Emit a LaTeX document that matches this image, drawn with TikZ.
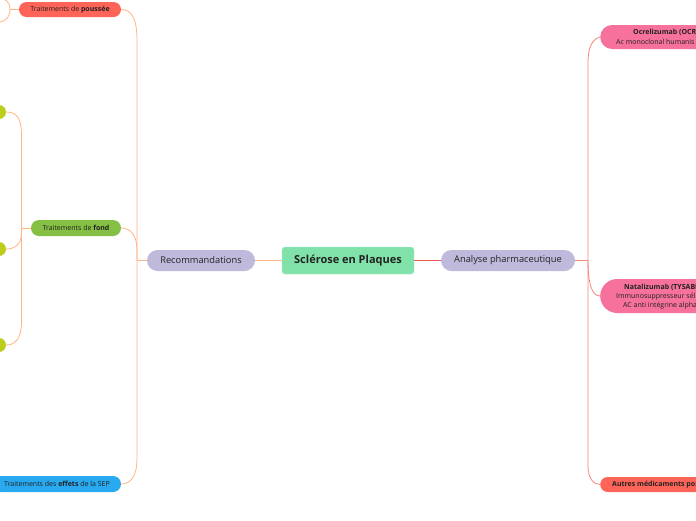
\documentclass[tikz,border=0pt]{standalone}
\usepackage{fontspec}
\setmainfont{Open Sans}
\definecolor{cgreen}{HTML}{80E2A9}
\definecolor{clav}{HTML}{BFBADB}
\definecolor{cred}{HTML}{FF6459}
\definecolor{cfond}{HTML}{85BF43}
\definecolor{cblue}{HTML}{28A9F0}
\definecolor{cpink}{HTML}{F6719B}
\definecolor{clime}{HTML}{BCCD1C}
\definecolor{corange}{HTML}{FFB583}
\definecolor{crline}{HTML}{F5877D}
\definecolor{ctxt}{HTML}{222222}
\begin{document}
\begin{tikzpicture}[x=1pt,y=-1pt,
  every node/.style={inner sep=0pt, text=ctxt},
  pill/.style={draw=none, minimum height=#1, rounded corners=#1/2-0.01pt},
  small/.style={font=\fontsize{7}{8.5}\selectfont},
  mid/.style={font=\fontsize{9.3}{11}\selectfont},
  lc/.style={draw=corange, line width=0.8pt},
  rc/.style={draw=crline, line width=0.8pt},
  txt/.style={anchor=west, font=\fontsize{7}{8.5}\selectfont}
]
\useasboundingbox (0,0) rectangle (696,520);
\clip (0,0) rectangle (696,520);
\fill[white] (0,0) rectangle (696,520);

% connectors first
\coordinate (jl) at (137,260.5);
\coordinate (jf) at (21.5,228);
\coordinate (jr) at (588,260.5);

% nodes
\node[draw=cgreen!60!white, fill=cgreen, rounded corners=3pt, minimum width=132pt, minimum height=27pt,
  font=\fontsize{11}{13}\selectfont\bfseries] (root) at (348,260.5) {Sclérose en Plaques};
\node[pill=21pt, fill=clav, minimum width=108pt, mid] (rec) at (201,260.5) {Recommandations};
\node[pill=21pt, fill=clav, minimum width=134pt, mid] (ana) at (508,260.5) {Analyse pharmaceutique};

\node[pill=15pt, fill=cred, minimum width=102pt, small] (pou) at (70,9.5) {Traitements de \textbf{poussée}};
\node[pill=16pt, fill=cfond, minimum width=90pt, small] (fond) at (76,228) {Traitements de \textbf{fond}};
\node[pill=16pt, fill=cblue, minimum width=128pt, small] (eff) at (57,484) {Traitements des \textbf{effets} de la SEP};

\node[circle, fill=clime, minimum size=14pt] (c1) at (-1,112) {};
\node[circle, fill=clime, minimum size=14pt] (c2) at (-1,249) {};
\node[circle, fill=clime, minimum size=14pt] (c3) at (-1,345) {};

\node[pill=24pt, fill=cpink, minimum width=200pt, anchor=west] (ocr) at (600,37) {};
\node[pill=34pt, fill=cpink, minimum width=200pt, anchor=west] (nat) at (600,296) {};
\node[pill=15pt, fill=cred, minimum width=200pt, anchor=west] (aut) at (600,484.5) {};

\node[txt, font=\fontsize{7}{8.5}\selectfont\bfseries] (ocr1) at (633,32.5) {Ocrelizumab (OCR};
\node[txt] (ocr2) at (616,42) {Ac monoclonal humanis};
\node[txt, font=\fontsize{7}{8.5}\selectfont\bfseries] (nat1) at (624,287) {Natalizumab (TYSABI};
\node[txt] (nat2) at (616,297) {Immunosuppresseur sél};
\node[txt] (nat3) at (623,306) {AC anti intégrine alpha};
\node[txt, font=\fontsize{7}{8.5}\selectfont\bfseries] (aut1) at (612,485) {Autres médicaments pos};

% connectors
\begin{scope}[on background layer/.style={}]
\draw[lc] (root.west) -- (rec.east);
\draw[draw=cred!90!black, line width=0.8pt] (root.east) -- (ana.west);
\draw[lc] (rec.west) -- (jl);
\draw[lc] (jl) -- (137,40) .. controls (137,16) and (130,9.5) .. (pou.east);
\draw[lc] (jl) -- (137,250) .. controls (137,236) and (131,228) .. (fond.east);
\draw[lc] (jl) -- (137,458) .. controls (137,476) and (131,484) .. (eff.east);

\draw[lc] (fond.west) -- (jf);
\draw[lc] (jf) -- (21.5,135) .. controls (21.5,116) and (15,112) .. (c1.east);
\draw[lc] (jf) -- (21.5,233) .. controls (21.5,245) and (14,249) .. (c2.east);
\draw[lc] (jf) -- (21.5,322) .. controls (21.5,340) and (14,345) .. (c3.east);

\coordinate (pj) at (10,9.5);
\draw[lc] (pou.west) -- (pj);
\draw[lc] (pj) .. controls (10,2) and (6,-1) .. (0,-2);
\draw[lc] (pj) .. controls (10,17) and (6,21) .. (0,22);

\draw[rc] (ana.east) -- (jr);
\draw[rc] (jr) -- (588,62) .. controls (588,46) and (593,39) .. (ocr.west);
\draw[rc] (jr) .. controls (588,284) and (592,296) .. (nat.west);
\draw[rc] (jr) -- (588,466) .. controls (588,479) and (594,484.5) .. (aut.west);
\end{scope}
\end{tikzpicture}
\end{document}
